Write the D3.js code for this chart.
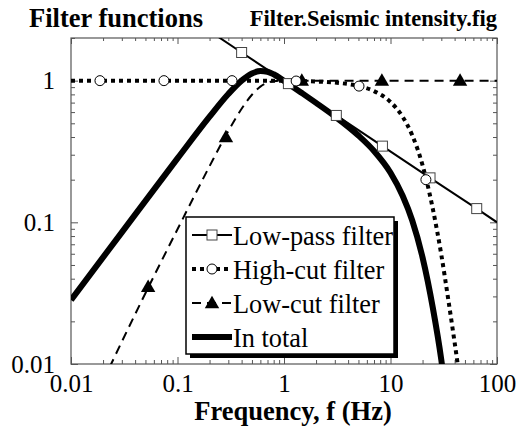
<!DOCTYPE html>
<html>
<head>
<meta charset="utf-8">
<script src="https://cdn.jsdelivr.net/npm/d3@7"></script>
</head>
<body style="margin:0; background:#fff">
<svg id="chart" width="528" height="432" style="display:block"></svg>
<script>
// Axis ticks and labels
const freqTicks = [0.01, 0.1, 1, 10, 100];
const freqLabels = ["0.01", "0.1", "1", "10", "100"];
const gainTicks = [0.01, 0.1, 1];
const gainLabels = ["0.01", "0.1", "1"];

// Low-pass filter (period effect), straight line in log-log
const lowPassFreq = [0.2, 0.4, 1.1, 3.1, 8.4, 23.5, 64.5, 100];
const lowPassGain = [2.24, 1.58, 0.953, 0.568, 0.345, 0.206, 0.125, 0.1];
const lowPassMarkFreq = [0.4, 1.1, 3.1, 8.4, 23.5, 64.5];
const lowPassMarkGain = [1.58, 0.953, 0.568, 0.345, 0.206, 0.125];

// High-cut filter
const highCutFreq = [0.01, 1, 2, 3, 5, 7, 10, 13, 16, 20, 25, 30, 35, 40, 45];
const highCutGain = [1, 0.997, 0.986, 0.969, 0.917, 0.844, 0.707, 0.556, 0.412, 0.253, 0.124, 0.059, 0.028, 0.0142, 0.0076];
const highCutMarkFreq = [0.0187, 0.0746, 0.325, 1.3, 5.06, 21.5];
const highCutMarkGain = [1, 1, 1, 0.994, 0.915, 0.2];

// Low-cut filter
const lowCutFreq = [0.02, 0.05, 0.1, 0.2, 0.3, 0.4, 0.5, 0.6, 0.7, 0.8, 1.0, 1.5, 100];
const lowCutGain = [0.0076, 0.0316, 0.0893, 0.249, 0.441, 0.633, 0.795, 0.907, 0.967, 0.992, 1.0, 1, 1];
const lowCutMarkFreq = [0.053, 0.285, 1.47, 8.3, 45];
const lowCutMarkGain = [0.035, 0.4, 1, 1, 1];

// Combined filter
const totalFreq = [0.01, 0.03, 0.1, 0.2, 0.3, 0.4, 0.5, 0.6, 0.7, 0.8, 1.0, 1.5, 2, 3, 5, 7, 10, 13, 16, 20, 25, 30, 32];
const totalGain = [0.0283, 0.085, 0.2825, 0.557, 0.805, 1.0, 1.124, 1.171, 1.156, 1.109, 0.996, 0.81, 0.697, 0.56, 0.41, 0.319, 0.224, 0.154, 0.103, 0.0565, 0.0248, 0.0107, 0.0074];

const legendLabels = ["Low-pass filter", "High-cut filter", "Low-cut filter", "In total"];

const FONT = "Liberation Serif";
const svg = d3.select("#chart").attr("font-family", FONT);
const plotL = 71, plotR = 497, plotT = 38, plotB = 364;

const x = d3.scaleLog().domain([0.01, 100]).range([plotL, plotR]);
const y = d3.scaleLog().domain([0.01, 2]).range([plotB, plotT]);

const zip = (a, b) => a.map((v, i) => [v, b[i]]);

// Titles
svg.append("text").attr("x", 29).attr("y", 27).attr("font-family", FONT)
  .attr("font-size", 26.5).attr("font-weight", "bold").text("Filter functions");
svg.append("text").attr("x", 497).attr("y", 26).attr("text-anchor", "end").attr("font-family", FONT)
  .attr("font-size", 22.5).attr("font-weight", "bold").text("Filter.Seismic intensity.fig");

// Axes: inward ticks on all four sides
const minorX = x.ticks().filter(v => !freqTicks.includes(v));
const minorY = y.ticks().filter(v => !gainTicks.includes(v) && v <= 2);
const axisColor = "#555";

function styleAxis(g) {
  g.select(".domain").remove();
  g.attr("font-family", FONT);
  g.selectAll("line").attr("stroke", axisColor);
}

svg.append("g").attr("transform", `translate(0,${plotB})`)
  .call(d3.axisBottom(x).tickValues(minorX).tickSize(-4).tickFormat(""))
  .call(styleAxis);
svg.append("g").attr("transform", `translate(0,${plotB})`)
  .call(d3.axisBottom(x).tickValues(freqTicks).tickSize(-7).tickPadding(10)
    .tickFormat((d, i) => freqLabels[i]))
  .call(styleAxis)
  .call(g => g.selectAll("text").attr("font-family", FONT).attr("font-size", 25)
    .attr("fill", "#000").attr("dy", "0.71em"));

svg.append("g").attr("transform", `translate(0,${plotT})`)
  .call(d3.axisTop(x).tickValues(minorX).tickSize(-3).tickFormat(""))
  .call(styleAxis);
svg.append("g").attr("transform", `translate(0,${plotT})`)
  .call(d3.axisTop(x).tickValues(freqTicks).tickSize(-6).tickFormat(""))
  .call(styleAxis);

svg.append("g").attr("transform", `translate(${plotL},0)`)
  .call(d3.axisLeft(y).tickValues(minorY).tickSize(-4).tickFormat(""))
  .call(styleAxis);
svg.append("g").attr("transform", `translate(${plotL},0)`)
  .call(d3.axisLeft(y).tickValues(gainTicks).tickSize(-7).tickPadding(16)
    .tickFormat((d, i) => gainLabels[i]))
  .call(styleAxis)
  .call(g => g.selectAll("text").attr("font-family", FONT).attr("font-size", 25)
    .attr("fill", "#000").attr("dy", "0.32em"));

svg.append("g").attr("transform", `translate(${plotR},0)`)
  .call(d3.axisRight(y).tickValues(minorY).tickSize(-4).tickFormat(""))
  .call(styleAxis);
svg.append("g").attr("transform", `translate(${plotR},0)`)
  .call(d3.axisRight(y).tickValues(gainTicks).tickSize(-7).tickFormat(""))
  .call(styleAxis);

// Frame
svg.append("rect").attr("x", plotL).attr("y", plotT)
  .attr("width", plotR - plotL).attr("height", plotB - plotT)
  .attr("fill", "none").attr("stroke", axisColor).attr("stroke-width", 1.2);

// Axis title
svg.append("text").attr("x", 293).attr("y", 420).attr("text-anchor", "middle").attr("font-family", FONT)
  .attr("font-size", 26.5).attr("font-weight", "bold").text("Frequency, f (Hz)");

// Clip to plot area
svg.append("clipPath").attr("id", "plot-clip")
  .append("rect").attr("x", plotL).attr("y", plotT)
  .attr("width", plotR - plotL).attr("height", plotB - plotT);

const plot = svg.append("g").attr("clip-path", "url(#plot-clip)");
const line = d3.line().x(d => x(d[0])).y(d => y(d[1])).curve(d3.curveMonotoneX);
const straight = d3.line().x(d => x(d[0])).y(d => y(d[1]));

const styles = {
  lowPass: { width: 2, dash: null },
  highCut: { width: 4, dash: "4,4" },
  lowCut: { width: 2, dash: "9,6" },
  total: { width: 6, dash: null }
};

plot.append("path").datum(zip(totalFreq, totalGain)).attr("d", line)
  .attr("fill", "none").attr("stroke", "#000").attr("stroke-width", styles.total.width);
plot.append("path").datum(zip(lowCutFreq, lowCutGain)).attr("d", line)
  .attr("fill", "none").attr("stroke", "#000").attr("stroke-width", styles.lowCut.width)
  .attr("stroke-dasharray", styles.lowCut.dash);
plot.append("path").datum(zip(highCutFreq, highCutGain)).attr("d", line)
  .attr("fill", "none").attr("stroke", "#000").attr("stroke-width", styles.highCut.width)
  .attr("stroke-dasharray", styles.highCut.dash);
plot.append("path").datum(zip(lowPassFreq, lowPassGain)).attr("d", straight)
  .attr("fill", "none").attr("stroke", "#000").attr("stroke-width", styles.lowPass.width);

// Markers
const tri = d3.symbol().type(d3.symbolTriangle).size(90);
function squareMark(g, cx, cy) {
  g.append("rect").attr("x", cx - 5).attr("y", cy - 5).attr("width", 10).attr("height", 10)
    .attr("fill", "#fff").attr("stroke", "#444").attr("stroke-width", 1);
}
function circleMark(g, cx, cy) {
  g.append("circle").attr("cx", cx).attr("cy", cy).attr("r", 5)
    .attr("fill", "#fff").attr("stroke", "#000").attr("stroke-width", 1);
}
function triMark(g, cx, cy) {
  g.append("path").attr("d", tri).attr("transform", `translate(${cx},${cy + 1})`)
    .attr("fill", "#000");
}

const marks = svg.append("g");
zip(lowPassMarkFreq, lowPassMarkGain).forEach(d => squareMark(marks, x(d[0]), y(d[1])));
zip(lowCutMarkFreq, lowCutMarkGain).forEach(d => triMark(marks, x(d[0]), y(d[1])));
zip(highCutMarkFreq, highCutMarkGain).forEach(d => circleMark(marks, x(d[0]), y(d[1])));

// Legend with drop shadow
const lx = 186, ly = 217, lw = 208, lh = 137;
const legend = svg.append("g");
legend.append("rect").attr("x", lx + 4).attr("y", ly + 4).attr("width", lw).attr("height", lh)
  .attr("fill", "#000");
legend.append("rect").attr("x", lx).attr("y", ly).attr("width", lw).attr("height", lh)
  .attr("fill", "#fff").attr("stroke", "#000").attr("stroke-width", 1.5);

const keys = ["lowPass", "highCut", "lowCut", "total"];
legendLabels.forEach((label, i) => {
  const base = 245 + i * 34;
  const cy = base - 10;
  const st = styles[keys[i]];
  legend.append("line").attr("x1", 192).attr("x2", 232).attr("y1", cy).attr("y2", cy)
    .attr("stroke", "#000").attr("stroke-width", st.width)
    .attr("stroke-dasharray", st.dash);
  if (i === 0) squareMark(legend, 212, cy);
  if (i === 1) circleMark(legend, 212, cy);
  if (i === 2) triMark(legend, 212, cy);
  legend.append("text").attr("x", 233).attr("y", base).attr("font-family", FONT)
    .attr("font-size", 26.3).text(label);
});
</script>
</body>
</html>
